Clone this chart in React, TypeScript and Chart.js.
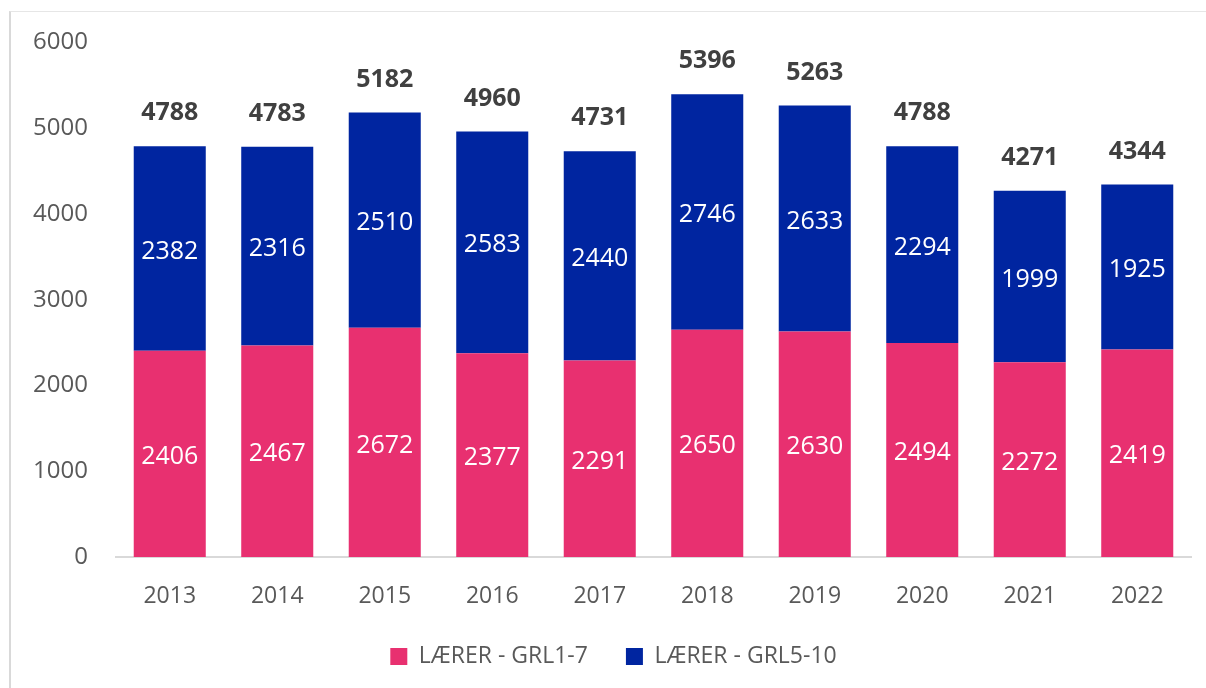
import React, { useEffect, useRef } from "react";
import { Chart, registerables } from "chart.js";

Chart.register(...registerables);

const years = ["2013", "2014", "2015", "2016", "2017", "2018", "2019", "2020", "2021", "2022"];
const grl17 = [2406, 2467, 2672, 2377, 2291, 2650, 2630, 2494, 2272, 2419];
const grl510 = [2382, 2316, 2510, 2583, 2440, 2746, 2633, 2294, 1999, 1925];
const seriesNames = ["LÆRER - GRL1-7", "LÆRER - GRL5-10"];
const yMin = 0;
const yMax = 6000;
const yStep = 1000;

const FONT = "'Open Sans', sans-serif";
const PINK = "#E83070";
const BLUE = "#0025A0";

const labelPlugin = {
  id: "barLabels",
  afterDatasetsDraw(chart: any) {
    const ctx = chart.ctx;
    ctx.save();
    ctx.textAlign = "center";
    ctx.textBaseline = "middle";
    chart.data.datasets.forEach((ds: any, di: number) => {
      const meta = chart.getDatasetMeta(di);
      meta.data.forEach((bar: any, i: number) => {
        const p = bar.getProps(["x", "y", "base"], true);
        ctx.fillStyle = "#ffffff";
        ctx.font = `400 25px ${FONT}`;
        ctx.fillText(String(ds.data[i]), p.x, (p.y + p.base) / 2 + 3);
      });
    });
    const last = chart.getDatasetMeta(chart.data.datasets.length - 1);
    last.data.forEach((bar: any, i: number) => {
      const p = bar.getProps(["x", "y"], true);
      let total = 0;
      chart.data.datasets.forEach((ds: any) => (total += ds.data[i]));
      ctx.fillStyle = "#404040";
      ctx.font = `700 25px ${FONT}`;
      ctx.fillText(String(total), p.x, p.y - 33);
    });
    ctx.restore();
  },
};

const legendShift = {
  id: "legendShift",
  afterLayout(chart: any) {
    if (chart.legend) {
      chart.legend.left += 18;
      chart.legend.right += 18;
    }
  },
};

export default function App() {
  const ref = useRef<HTMLCanvasElement | null>(null);
  useEffect(() => {
    if (!ref.current) return;
    const chart = new Chart(ref.current, {
      type: "bar",
      data: {
        labels: years,
        datasets: [
          { label: seriesNames[0], data: grl17, backgroundColor: PINK, borderWidth: 0 },
          { label: seriesNames[1], data: grl510, backgroundColor: BLUE, borderWidth: 0 },
        ],
      },
      plugins: [labelPlugin, legendShift],
      options: {
        animation: false,
        responsive: false,
        maintainAspectRatio: false,
        layout: { padding: { left: 0, right: 15, top: 42, bottom: 10 } },
        datasets: { bar: { barPercentage: 0.67, categoryPercentage: 1 } },
        plugins: {
          tooltip: { enabled: false },
          legend: {
            position: "bottom",
            labels: {
              boxWidth: 17,
              boxHeight: 17,
              padding: 38,
              color: "#595959",
              font: { family: FONT, size: 23 },
            },
          },
        },
        scales: {
          x: {
            stacked: true,
            grid: { display: false, drawTicks: false },
            border: { display: true, color: "#d9d9d9", width: 2 },
            ticks: { color: "#595959", font: { family: FONT, size: 23 }, padding: 26 },
            afterFit: (s: any) => {
              s.height = 50;
            },
          },
          y: {
            stacked: true,
            min: yMin,
            max: yMax,
            grid: { display: false, drawTicks: false },
            border: { display: false },
            ticks: {
              stepSize: yStep,
              color: "#595959",
              font: { family: FONT, size: 24 },
              padding: 28,
              callback: (v: any) => String(v),
            },
            afterFit: (s: any) => {
              s.width = 116;
            },
          },
        },
      },
    } as any);
    return () => chart.destroy();
  }, []);
  return (
    <div style={{ position: "fixed", left: 0, top: 0, width: 1206, height: 688, overflow: "hidden", background: "#fff" }}>
      <div
        style={{
          position: "absolute",
          left: 9,
          top: 11,
          width: 1300,
          height: 800,
          borderLeft: "2px solid #d9d9d9",
          borderTop: "1px solid #e6e6e6",
        }}
      />
      <canvas ref={ref} width={1206} height={688} style={{ position: "absolute", left: 0, top: 0 }} />
    </div>
  );
}
